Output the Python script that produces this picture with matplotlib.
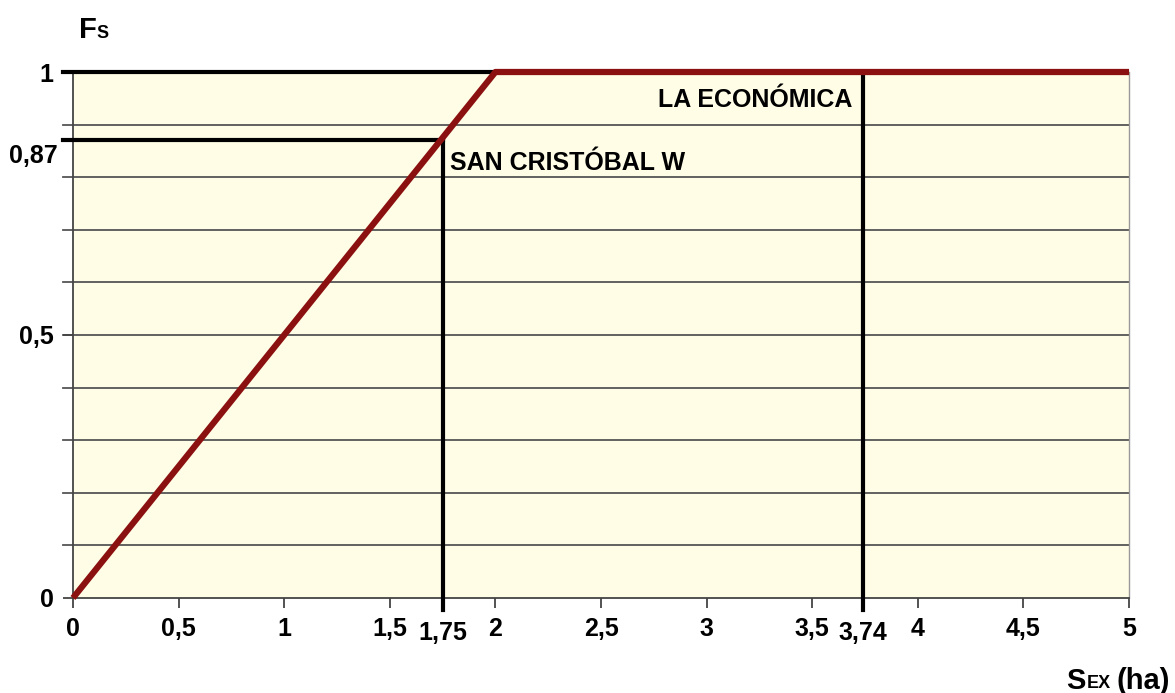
import matplotlib.pyplot as plt
import numpy as np

plt.rcParams['font.family'] = ['Liberation Sans', 'DejaVu Sans']
plt.rcParams['font.weight'] = 'bold'

# curve Fs(Sex)
curve_x = [0, 2, 5]
curve_y = [0, 1, 1]

# the two sites
site_names = ['SAN CRISTÓBAL W', 'LA ECONÓMICA']
site_x = [1.75, 3.74]
site_fs = [0.87, 1.0]

x_ticks = [0, 0.5, 1, 1.5, 2, 2.5, 3, 3.5, 4, 4.5, 5]
x_tick_labels = ['0', '0,5', '1', '1,5', '2', '2,5', '3', '3,5', '4', '4,5', '5']
y_ticks = [0, 0.5, 1]
y_tick_labels = ['0', '0,5', '1']

FS = 18

fig = plt.figure(figsize=(11.75, 6.93), dpi=100)
ax = fig.add_axes([0.0621, 0.1371, 0.8988, 0.759])
ax.set_facecolor('#fffde6')
ax.set_xlim(0, 5)
ax.set_ylim(0, 1)

# horizontal grid every 0.1 with small ticks on the left
for g in np.arange(0.1, 1.0, 0.1):
    ax.plot([-0.045, 5], [g, g], color='#555555', lw=1.3, clip_on=False, zorder=1)

ax.spines['top'].set_visible(False)
ax.spines['right'].set_color('#999999')
ax.spines['right'].set_linewidth(1)
ax.spines['left'].set_color('#444444')
ax.spines['left'].set_linewidth(1.3)
ax.spines['bottom'].set_color('#444444')
ax.spines['bottom'].set_linewidth(1.3)

ax.set_xticks(x_ticks)
ax.set_xticklabels(x_tick_labels, fontsize=FS, fontweight='bold')
ax.set_yticks(y_ticks)
ax.set_yticklabels(y_tick_labels, fontsize=FS, fontweight='bold')
ax.tick_params(axis='x', direction='out', length=7, width=1.3, color='#444444', pad=7)
ax.tick_params(axis='y', direction='out', length=7, width=1.3, color='#444444', pad=7)

# extra labels for the two sites
ax.text(site_x[0], -0.043, '1,75', ha='center', va='top', fontsize=FS, fontweight='bold')
ax.text(site_x[1], -0.043, '3,74', ha='center', va='top', fontsize=FS, fontweight='bold')
ax.text(-0.074, site_fs[0] - 0.03, '0,87', ha='right', va='center', fontsize=FS, fontweight='bold')

# black reference lines
ax.plot([-0.045, curve_x[1]], [1, 1], color='black', lw=3, clip_on=False, zorder=3)
ax.plot([-0.045, site_x[0]], [site_fs[0], site_fs[0]], color='black', lw=3, clip_on=False, zorder=3)
ax.plot([site_x[0], site_x[0]], [-0.022, site_fs[0]], color='black', lw=3, clip_on=False, zorder=3)
ax.plot([site_x[1], site_x[1]], [-0.022, site_fs[1]], color='black', lw=3, clip_on=False, zorder=3)

# curve
ax.plot(curve_x, curve_y, color='#8b1111', lw=4.5, solid_capstyle='butt', clip_on=False, zorder=4)

ax.text(site_x[0] + 0.035, site_fs[0] - 0.043, site_names[0], ha='left', va='center', fontsize=FS, fontweight='bold')
ax.text(site_x[1] - 0.05, 0.947, site_names[1], ha='right', va='center', fontsize=FS, fontweight='bold')

# axis titles
fig.text(79 / 1175, 1 - 30 / 693, 'F', fontsize=21, fontweight='bold', ha='left', va='center')
fig.text(96 / 1175, 1 - 34 / 693, 'S', fontsize=13, fontweight='bold', ha='left', va='center')

fig.text(1066 / 1175, 1 - 681 / 693, 'S', fontsize=21, fontweight='bold', ha='left', va='center')
fig.text(1087 / 1175, 1 - 683 / 693, 'EX', fontsize=13, fontweight='bold', ha='left', va='center')
fig.text(1117 / 1175, 1 - 681 / 693, '(ha)', fontsize=21, fontweight='bold', ha='left', va='center')

fig.savefig('out.png', dpi=100, facecolor='white')
